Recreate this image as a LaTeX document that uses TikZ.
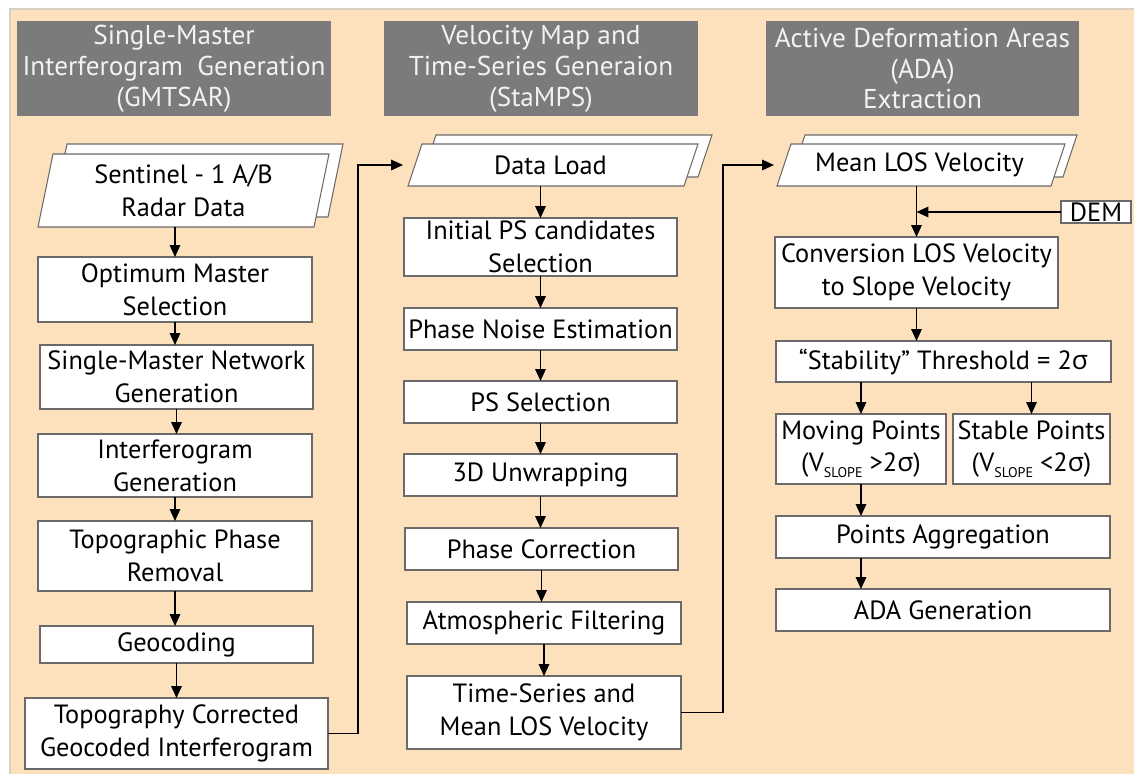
\documentclass[tikz,border=0pt]{standalone}
\usepackage{fontspec}
\setmainfont{PT Sans}
\newfontfamily\grk{Open Sans}
\usetikzlibrary{arrows.meta}
\definecolor{peach}{HTML}{FDE1BD}
\definecolor{hdr}{HTML}{7B7B7B}
\definecolor{hdrtxt}{HTML}{F2F2F2}
\definecolor{bord}{HTML}{6A6A6A}
\definecolor{outerb}{HTML}{D8CFC4}
\newcommand\mynode[7]{\node[#1, minimum width={(#5-#3)*0.02cm}, minimum height={(#6-#4)*0.02cm}] (#2) at ({(#3+#5)/2},{(#4+#6)/2}) {#7};}
\newcommand\subsl{\raisebox{-0.4ex}{\fontsize{8}{8}\selectfont SLOPE}}
\newcommand\sig{{\grk σ}}
\begin{document}
\begin{tikzpicture}[x=0.02cm,y=-0.02cm,
  txt/.style={font=\fontsize{15}{18.7}\selectfont, align=center, inner sep=0pt, outer sep=0pt},
  box/.style={txt, draw=bord, fill=white, line width=0.6pt},
  ghost/.style={txt},
  hdrbox/.style={txt, fill=hdr, text=hdrtxt, font=\fontsize{15.5}{17.6}\selectfont},
  para/.style={draw=bord, fill=white, line width=0.6pt},
  arr/.style={line width=0.85pt, -{Triangle[length=6.8pt,width=6pt]}}]
\useasboundingbox (0,0) rectangle (1134,774);
\fill[white] (0,0) rectangle (1134,774);
\draw[fill=peach, draw=outerb, line width=0.6pt] (10,9) rectangle (1150,790);

% headers
\mynode{hdrbox}{h1}{17}{21}{331}{116}{Single-Master\\Interferogram~~Generation\\(GMTSAR)}
\mynode{hdrbox}{h2}{384}{21}{698}{116}{Velocity Map and\\Time-Series Generaion\\(StaMPS)}
\mynode{hdrbox}{h3}{766}{21}{1079}{116}{Active Deformation Areas\\(ADA)\\Extraction}

% data parallelograms
\filldraw[para] (67,144) -- (343,144) -- (328,217) -- (52,217) -- cycle;
\filldraw[para] (53,154) -- (329,154) -- (314,227) -- (38,227) -- cycle;
\mynode{ghost}{sent}{38}{154}{329}{227}{Sentinel - 1 A/B\\Radar Data}

\filldraw[para] (436,135) -- (712,135) -- (698,177) -- (422,177) -- cycle;
\filldraw[para] (422,144) -- (698,144) -- (684,186) -- (408,186) -- cycle;
\mynode{ghost}{dl}{403}{144}{698}{186}{Data Load}

\filldraw[para] (805,135) -- (1077,135) -- (1063,177) -- (791,177) -- cycle;
\filldraw[para] (791,144) -- (1065,144) -- (1051,186) -- (777,186) -- cycle;
\mynode{ghost}{mean}{774}{144}{1065}{186}{Mean LOS Velocity}

% column 1
\mynode{box}{opt}{38}{257}{312}{322}{Optimum Master\\Selection}
\mynode{box}{net}{40}{345}{313}{409}{Single-Master Network\\Generation}
\mynode{box}{intf}{38}{434}{312}{497}{Interferogram\\Generation}
\mynode{box}{topo}{38}{521}{312}{591}{Topographic Phase\\Removal}
\mynode{box}{geo}{40}{626}{313}{663}{Geocoding}
\mynode{box}{corr}{25}{698}{328}{769}{Topography Corrected\\Geocoded Interferogram}

% column 2
\mynode{box}{init}{404}{218}{677}{276}{Initial PS candidates\\Selection}
\mynode{box}{noise}{404}{308}{677}{350}{Phase Noise Estimation}
\mynode{box}{pss}{404}{381}{677}{423}{PS Selection}
\mynode{box}{unw}{404}{454}{677}{496}{3D Unwrapping}
\mynode{box}{pcor}{405}{528}{678}{570}{Phase Correction}
\mynode{box}{atm}{407}{602}{681}{644}{Atmospheric Filtering}
\mynode{box}{ts}{407}{676}{681}{749}{Time-Series and\\Mean LOS Velocity}

% column 3
\mynode{box}{conv}{775}{237}{1058}{308}{Conversion LOS Velocity\\to Slope Velocity}
\mynode{box}{dem}{1061}{201}{1131}{223}{DEM}
\mynode{box}{stab}{776}{341}{1111}{382}{“Stability” Threshold = 2\sig}
\mynode{box}{mov}{776}{414}{946}{484}{Moving Points\\(V\subsl{} >2\sig)}
\mynode{box}{stb}{953}{414}{1110}{484}{Stable Points\\(V\subsl{} <2\sig)}
\mynode{box}{agg}{776}{516}{1110}{558}{Points Aggregation}
\mynode{box}{ada}{776}{589}{1110}{631}{ADA Generation}

% arrows column 1
\draw[arr] (opt.north |- sent.south) -- (opt.north);
\draw[arr] (opt) -- (opt |- net.north);
\draw[arr] (net) -- (net |- intf.north);
\draw[arr] (intf) -- (intf |- topo.north);
\draw[arr] (topo) -- (topo |- geo.north);
\draw[arr] (geo) -- (geo |- corr.north);
\draw[arr] (corr.east) -- ++(30,0) |- (dl.west);

% arrows column 2
\draw[arr] (init.north |- dl.south) -- (init.north);
\draw[arr] (init) -- (init |- noise.north);
\draw[arr] (noise) -- (noise |- pss.north);
\draw[arr] (pss) -- (pss |- unw.north);
\draw[arr] (unw) -- (unw |- pcor.north);
\draw[arr] (pcor) -- (pcor |- atm.north);
\draw[arr] (atm) -- (atm |- ts.north);
\draw[arr] (ts.east) -- ++(42,0) |- (mean.west);

% arrows column 3
\draw[arr] (conv.north |- mean.south) -- (conv.north);
\draw[arr] (dem.west) -- (dem.west -| conv.north);
\draw[arr] (conv) -- (conv |- stab.north);
\draw[arr] (mov.north |- stab.south) -- (mov.north);
\draw[arr] (stb.north |- stab.south) -- (stb.north);
\draw[arr] (mov) -- (mov |- agg.north);
\draw[arr] (agg.south -| mov) -- (ada.north -| mov);
\end{tikzpicture}
\end{document}
